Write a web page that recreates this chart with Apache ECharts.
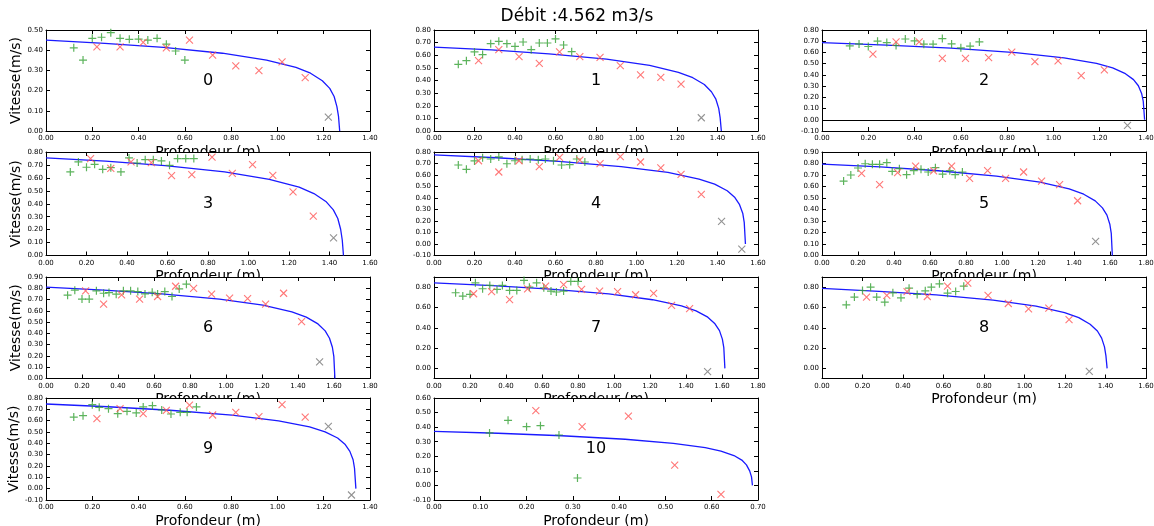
<!DOCTYPE html>
<html><head><meta charset="utf-8">
<script src="https://cdn.jsdelivr.net/npm/echarts@6/dist/echarts.min.js"></script>
<style>html,body{margin:0;padding:0;background:#fff}#c{width:1154px;height:526px}</style>
</head><body><div id="c"></div><script>
const chartTitle = 'Débit :4.562 m3/s';
const panelNames = ['0','1','2','3','4','5','6','7','8','9','10'];
const xMaxes = [1.4,1.6,1.4,1.6,1.6,1.8,1.8,1.8,1.6,1.4,0.7];
const xSteps = [0.2,0.2,0.2,0.2,0.2,0.2,0.2,0.2,0.2,0.2,0.1];
const yMins = [0,0,-0.1,0,-0.1,0,0,-0.1,-0.1,-0.1,-0.1];
const yMaxes = [0.5,0.8,0.8,0.8,0.8,0.9,0.9,0.9,0.9,0.8,0.6];
const yTickLists = [null,null,null,null,null,null,null,[0,0.2,0.4,0.6,0.8],[0,0.2,0.4,0.6,0.8],null,null];

// model curve (blue)
const curveDepth = [
 [0,0.254,0.508,0.762,0.953,1.080,1.143,1.194,1.226,1.245,1.257,1.264,1.269],
 [0,0.284,0.568,0.852,1.065,1.207,1.278,1.335,1.370,1.392,1.406,1.413,1.419],
 [0,0.279,0.558,0.837,1.046,1.186,1.256,1.311,1.346,1.367,1.381,1.388,1.394],
 [0,0.294,0.588,0.882,1.103,1.250,1.323,1.382,1.419,1.441,1.455,1.463,1.469],
 [0,0.308,0.616,0.924,1.155,1.309,1.386,1.448,1.486,1.509,1.525,1.532,1.538],
 [0,0.323,0.646,0.969,1.211,1.373,1.454,1.518,1.558,1.583,1.599,1.607,1.613],
 [0,0.321,0.643,0.964,1.205,1.366,1.446,1.511,1.551,1.575,1.591,1.599,1.605],
 [0,0.324,0.647,0.971,1.214,1.375,1.456,1.521,1.561,1.586,1.602,1.610,1.616],
 [0,0.282,0.564,0.845,1.057,1.198,1.268,1.324,1.360,1.381,1.395,1.402,1.408],
 [0,0.268,0.536,0.804,1.005,1.139,1.206,1.260,1.293,1.313,1.327,1.333,1.339],
 [0,0.138,0.276,0.413,0.517,0.586,0.620,0.648,0.665,0.675,0.682,0.686,0.688]
];
const curveSpeed = [
 [0.450,0.434,0.414,0.385,0.351,0.315,0.286,0.249,0.211,0.171,0.121,0.072,0],
 [0.665,0.642,0.611,0.569,0.519,0.465,0.422,0.368,0.311,0.252,0.179,0.106,0],
 [0.688,0.666,0.638,0.598,0.552,0.502,0.462,0.411,0.358,0.303,0.235,0.167,0],
 [0.755,0.729,0.694,0.646,0.589,0.528,0.479,0.418,0.353,0.286,0.203,0.120,0],
 [0.775,0.750,0.718,0.673,0.622,0.565,0.520,0.463,0.404,0.342,0.265,0.188,0],
 [0.795,0.770,0.737,0.691,0.638,0.580,0.533,0.475,0.414,0.351,0.272,0.193,0],
 [0.810,0.784,0.751,0.704,0.650,0.590,0.544,0.484,0.422,0.357,0.277,0.197,0],
 [0.843,0.816,0.781,0.733,0.676,0.615,0.566,0.504,0.439,0.372,0.288,0.205,0],
 [0.787,0.759,0.723,0.673,0.614,0.550,0.500,0.435,0.368,0.298,0.212,0.125,0],
 [0.747,0.723,0.692,0.649,0.599,0.545,0.501,0.447,0.389,0.329,0.255,0.182,0],
 [0.371,0.358,0.341,0.317,0.289,0.259,0.236,0.205,0.174,0.141,0.100,0.059,0]
];

// green "+" measurements
const greenDepth = [
 [0.12,0.16,0.20,0.24,0.28,0.32,0.36,0.40,0.44,0.48,0.52,0.56,0.60],
 [0.12,0.16,0.20,0.24,0.28,0.32,0.36,0.40,0.44,0.48,0.52,0.56,0.60,0.64,0.68],
 [0.12,0.16,0.20,0.24,0.28,0.32,0.36,0.40,0.44,0.48,0.52,0.56,0.60,0.64,0.68],
 [0.12,0.16,0.20,0.24,0.28,0.32,0.37,0.41,0.45,0.49,0.53,0.57,0.61,0.65,0.69,0.73],
 [0.12,0.16,0.20,0.24,0.28,0.32,0.36,0.40,0.435,0.475,0.515,0.55,0.59,0.63,0.67,0.705,0.745],
 [0.12,0.16,0.20,0.24,0.28,0.32,0.36,0.39,0.43,0.47,0.51,0.55,0.59,0.63,0.67,0.71,0.74,0.78],
 [0.12,0.16,0.20,0.24,0.28,0.32,0.35,0.39,0.43,0.47,0.51,0.55,0.59,0.62,0.66,0.70,0.74,0.78],
 [0.12,0.16,0.20,0.23,0.27,0.31,0.35,0.38,0.42,0.46,0.50,0.53,0.57,0.61,0.65,0.68,0.72,0.76,0.80],
 [0.12,0.16,0.20,0.24,0.27,0.31,0.35,0.39,0.43,0.47,0.51,0.54,0.58,0.62,0.66,0.70],
 [0.12,0.16,0.20,0.23,0.27,0.31,0.35,0.39,0.42,0.46,0.50,0.54,0.58,0.61,0.65],
 [0.12,0.16,0.20,0.23,0.27,0.31]
];
const greenSpeed = [
 [0.412,0.351,0.459,0.464,0.487,0.459,0.454,0.455,0.450,0.459,0.430,0.396,0.351],
 [0.528,0.557,0.626,0.605,0.692,0.710,0.692,0.670,0.705,0.644,0.697,0.697,0.729,0.681,0.628],
 [0.659,0.676,0.653,0.700,0.688,0.662,0.720,0.703,0.674,0.674,0.724,0.676,0.641,0.656,0.694],
 [0.646,0.723,0.682,0.705,0.666,0.679,0.646,0.754,0.715,0.741,0.741,0.731,0.697,0.749,0.749,0.749],
 [0.687,0.649,0.722,0.751,0.739,0.757,0.698,0.724,0.733,0.739,0.733,0.739,0.724,0.687,0.690,0.739,0.713],
 [0.647,0.700,0.761,0.798,0.793,0.793,0.807,0.732,0.755,0.703,0.738,0.749,0.726,0.764,0.708,0.738,0.703,0.726],
 [0.739,0.783,0.704,0.704,0.777,0.756,0.762,0.748,0.777,0.777,0.771,0.750,0.765,0.750,0.771,0.727,0.794,0.836],
 [0.745,0.712,0.729,0.843,0.784,0.817,0.778,0.817,0.768,0.768,0.866,0.800,0.843,0.794,0.761,0.752,0.761,0.856,0.856],
 [0.626,0.702,0.767,0.800,0.702,0.652,0.744,0.695,0.790,0.728,0.764,0.800,0.833,0.741,0.757,0.810],
 [0.632,0.644,0.741,0.718,0.706,0.662,0.682,0.668,0.721,0.732,0.694,0.659,0.674,0.674,0.721],
 [0.360,0.447,0.403,0.410,0.346,0.051]
];

// red "x" measurements
const redDepth = [
 [0.22,0.32,0.42,0.52,0.62,0.72,0.82,0.92,1.02,1.12],
 [0.22,0.32,0.42,0.52,0.62,0.72,0.82,0.92,1.02,1.12,1.22],
 [0.22,0.32,0.42,0.52,0.62,0.72,0.82,0.92,1.02,1.12,1.22],
 [0.22,0.32,0.42,0.52,0.62,0.72,0.82,0.92,1.02,1.12,1.22,1.32],
 [0.22,0.32,0.42,0.52,0.62,0.72,0.82,0.92,1.02,1.12,1.22,1.32],
 [0.22,0.32,0.42,0.52,0.62,0.72,0.82,0.92,1.02,1.12,1.22,1.32,1.42],
 [0.22,0.32,0.42,0.52,0.62,0.72,0.82,0.92,1.02,1.12,1.22,1.32,1.42],
 [0.22,0.32,0.42,0.52,0.62,0.72,0.82,0.92,1.02,1.12,1.22,1.32,1.42],
 [0.22,0.32,0.42,0.52,0.62,0.72,0.82,0.92,1.02,1.12,1.22],
 [0.22,0.32,0.42,0.52,0.62,0.72,0.82,0.92,1.02,1.12],
 [0.22,0.32,0.42,0.52,0.62]
];
const redSpeed = [
 [0.417,0.417,0.439,0.412,0.450,0.376,0.322,0.299,0.342,0.264],
 [0.557,0.644,0.589,0.536,0.626,0.589,0.583,0.517,0.444,0.425,0.372],
 [0.585,0.694,0.694,0.547,0.547,0.553,0.603,0.518,0.524,0.394,0.444],
 [0.749,0.674,0.723,0.718,0.617,0.625,0.761,0.635,0.702,0.620,0.491,0.304],
 [0.724,0.626,0.724,0.672,0.753,0.730,0.698,0.760,0.713,0.661,0.606,0.432],
 [0.714,0.616,0.720,0.778,0.735,0.778,0.671,0.738,0.671,0.726,0.647,0.616,0.476],
 [0.777,0.660,0.742,0.704,0.727,0.818,0.800,0.748,0.712,0.709,0.660,0.756,0.504],
 [0.735,0.755,0.676,0.784,0.810,0.824,0.778,0.761,0.755,0.725,0.739,0.621,0.588],
 [0.702,0.718,0.757,0.708,0.810,0.839,0.718,0.639,0.587,0.593,0.479],
 [0.618,0.706,0.662,0.691,0.738,0.650,0.674,0.635,0.741,0.632],
 [0.513,0.403,0.476,0.140,-0.061]
];

// grey "x" points
const greyDepth = [[1.22],[1.32],[1.32],[1.42],[1.42,1.52],[1.52],[1.52],[1.52],[1.32],[1.22,1.32],[]];
const greySpeed = [[0.069],[0.105],[-0.05],[0.136],[0.196,-0.045],[0.122],[0.147],[-0.033],[-0.03],[0.55,-0.056],[]];

// layout
const colLeft = [46, 434, 822];
const rowTop = [30, 152, 277, 398];
const rowHeight = [101, 103.5, 101.5, 102];
const plotWidth = 324;

const FONT = 'DejaVu Sans';
const PLUS = 'path://M0,5L10,5M5,0L5,10';
const CROSS = 'path://M0,0L10,10M10,0L0,10';
const pair = (xs, ys) => xs.map((x, k) => [x, ys[k]]);
const fmt = v => v.toFixed(2);

const grids = [], xAxes = [], yAxes = [], series = [], graphics = [];
panelNames.forEach((name, i) => {
  const row = Math.floor(i / 3), col = i % 3;
  const zl = row;
  const left = colLeft[col], top = rowTop[row], h = rowHeight[row];
  grids.push({left: left, top: top, width: plotWidth, height: h, show: false,
    zlevel: zl, z: 1, outerBoundsMode: 'none', containLabel: false});
  // white plot background that hides the previous row's axis title, as in the reference
  graphics.push({type: 'rect', zlevel: zl, z: 0, silent: true,
    shape: {x: left, y: top, width: plotWidth, height: h}, style: {fill: '#fff'}});
  const common = {gridIndex: i, type: 'value', splitLine: {show: false}, zlevel: zl, z: 2,
    axisLine: {show: true, onZero: false, lineStyle: {color: '#000', width: 1}}};
  xAxes.push(Object.assign({}, common, {position: 'bottom', min: 0, max: xMaxes[i], interval: xSteps[i],
    axisTick: {inside: true, length: 4, lineStyle: {color: '#000'}},
    axisLabel: {fontSize: 7, color: '#000', fontFamily: FONT, margin: 4, formatter: fmt, showMinLabel: true, showMaxLabel: true},
    name: 'Profondeur (m)', nameLocation: 'middle', nameGap: 14,
    nameTextStyle: {fontSize: 14, color: '#000', fontFamily: FONT}}));
  xAxes.push(Object.assign({}, common, {position: 'top', min: 0, max: xMaxes[i], interval: xSteps[i],
    axisTick: {inside: true, length: 4, lineStyle: {color: '#000'}},
    axisLabel: {show: false}}));
  const yTicks = yTickLists[i];
  const yTick = {inside: true, length: 4, lineStyle: {color: '#000'}};
  const yLab = {fontSize: 7, color: '#000', fontFamily: FONT, margin: 3, formatter: fmt, showMinLabel: true, showMaxLabel: true};
  const yBase = {min: yMins[i], max: yMaxes[i], interval: 0.1};
  if (yTicks) {
    yTick.customValues = yTicks;
    yLab.customValues = yTicks;
  }
  const yLeft = Object.assign({}, common, yBase, {position: 'left', axisTick: yTick, axisLabel: yLab});
  if (col === 0) {
    Object.assign(yLeft, {name: 'Vitesse(m/s)', nameLocation: 'middle', nameGap: 15, nameRotate: 90,
      nameTextStyle: {fontSize: 14, color: '#000', fontFamily: FONT}});
  }
  yAxes.push(yLeft);
  yAxes.push(Object.assign({}, common, yBase, {position: 'right',
    axisTick: Object.assign({}, yTick), axisLabel: {show: false}}));

  const xi = 2 * i;
  series.push({type: 'line', xAxisIndex: xi, yAxisIndex: xi, zlevel: zl, z: 3,
    data: pair(curveDepth[i], curveSpeed[i]), showSymbol: false, symbol: 'none',
    lineStyle: {color: '#1a1aff', width: 1.3}, silent: true, animation: false,
    markLine: {silent: true, symbol: ['none', 'none'], label: {show: false}, animation: false,
      lineStyle: {color: '#000', width: 1.2, type: 'solid'}, data: [{yAxis: 0}]}});
  series.push({type: 'scatter', xAxisIndex: xi, yAxisIndex: xi, zlevel: zl, z: 3,
    data: pair(greenDepth[i], greenSpeed[i]), symbol: PLUS, symbolSize: 8, animation: false,
    itemStyle: {color: 'rgba(0,0,0,0)', borderColor: '#33a033', borderWidth: 1.2}});
  series.push({type: 'scatter', xAxisIndex: xi, yAxisIndex: xi, zlevel: zl, z: 3,
    data: pair(redDepth[i], redSpeed[i]), symbol: CROSS, symbolSize: 7, animation: false,
    itemStyle: {color: 'rgba(0,0,0,0)', borderColor: '#ff5555', borderWidth: 1.1}});
  series.push({type: 'scatter', xAxisIndex: xi, yAxisIndex: xi, zlevel: zl, z: 3,
    data: pair(greyDepth[i], greySpeed[i]), symbol: CROSS, symbolSize: 7, animation: false,
    itemStyle: {color: 'rgba(0,0,0,0)', borderColor: '#777777', borderWidth: 1.1}});
  graphics.push({type: 'text', x: left + plotWidth / 2, y: top + h / 2, zlevel: zl, z: 4, silent: true,
    style: {text: name, fontSize: 16, fill: '#000', fontFamily: FONT, align: 'center', verticalAlign: 'middle'}});
});

const chart = echarts.init(document.getElementById('c'), null, {renderer: 'canvas'});
chart.setOption({
  animation: false,
  backgroundColor: '#fff',
  title: {text: chartTitle, left: 'center', top: 8, padding: 0,
    textStyle: {fontSize: 17, fontWeight: 'normal', color: '#000', fontFamily: FONT}},
  grid: grids, xAxis: xAxes, yAxis: yAxes, series: series, graphic: graphics
});
</script></body></html>
